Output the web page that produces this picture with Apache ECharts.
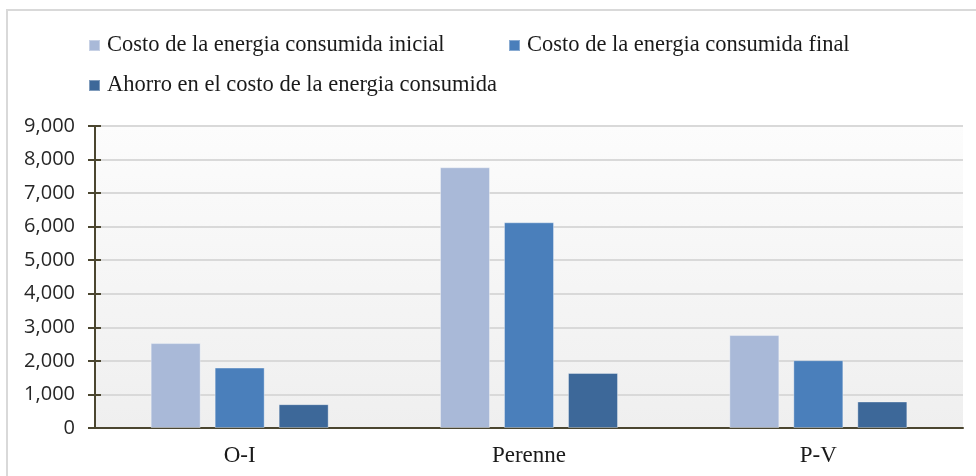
<!DOCTYPE html>
<html>
<head>
<meta charset="utf-8">
<script src="https://cdn.jsdelivr.net/npm/echarts@6/dist/echarts.min.js"></script>
<style>
  html, body { margin: 0; padding: 0; background: #ffffff; }
  #chart { width: 976px; height: 476px; }
</style>
</head>
<body>
<div id="chart"></div>
<script>
// Energy cost per scenario
const categories = ['O-I', 'Perenne', 'P-V'];
const seriesNames = [
  'Costo de la energia consumida inicial',
  'Costo de la energia consumida final',
  'Ahorro en el costo de la energia consumida'
];
const costoInicial = [2530, 7770, 2770];
const costoFinal = [1800, 6130, 2020];
const ahorro = [710, 1640, 790];
const yTicks = { min: 0, max: 9000, interval: 1000 };

const colors = ['#a9b9d8', '#4a7fbb', '#3d6899'];
const serif = '"Liberation Serif", "DejaVu Serif", serif';
const sans = '"Open Sans", "Noto Sans", sans-serif';
const axisColor = '#4b4630';

const chart = echarts.init(document.getElementById('chart'), null, { renderer: 'canvas' });

function legendAt(name, left, top) {
  return {
    data: [name],
    left: left,
    top: top,
    orient: 'horizontal',
    icon: 'rect',
    itemWidth: 11,
    itemHeight: 11,
    itemGap: 0,
    padding: 0,
    selectedMode: false,
    textStyle: { fontFamily: serif, fontSize: 22.5, color: '#1a1a1a', padding: [0, 0, 0, 2] }
  };
}

const valueArrays = [costoInicial, costoFinal, ahorro];

chart.setOption({
  animation: false,
  backgroundColor: '#ffffff',
  graphic: [{
    type: 'rect',
    shape: { x: 7, y: 10, width: 1000, height: 500 },
    style: { fill: 'none', stroke: '#d9d9d9', lineWidth: 2 },
    silent: true,
    z: -10
  }],
  legend: [
    legendAt(seriesNames[0], 88, 34),
    legendAt(seriesNames[1], 508, 34),
    legendAt(seriesNames[2], 88, 74)
  ],
  grid: {
    left: 95, right: 13, top: 126, bottom: 48,
    show: true,
    borderWidth: 0,
    backgroundColor: new echarts.graphic.LinearGradient(0, 0, 0, 1, [
      { offset: 0, color: '#fcfcfc' },
      { offset: 1, color: '#efefef' }
    ])
  },
  xAxis: {
    type: 'category',
    data: categories,
    axisLine: { show: true, lineStyle: { color: axisColor, width: 2 } },
    axisTick: { show: false },
    axisLabel: { fontFamily: serif, fontSize: 23, color: '#1a1a1a', margin: 16 },
    splitLine: { show: false }
  },
  yAxis: [{
    type: 'value',
    min: yTicks.min, max: yTicks.max, interval: yTicks.interval,
    axisLine: { show: true, lineStyle: { color: axisColor, width: 2 } },
    axisTick: { show: true, length: 7, lineStyle: { color: axisColor, width: 2 } },
    axisLabel: {
      fontFamily: sans, fontSize: 20, color: '#262626', margin: 20,
      formatter: v => v.toLocaleString('en-US')
    },
    splitLine: { show: true, lineStyle: { color: '#d9d9d9', width: 2 } }
  }, {
    // inner half of the crossing tick marks
    type: 'value',
    position: 'left',
    min: yTicks.min, max: yTicks.max, interval: yTicks.interval,
    axisLine: { show: false },
    axisTick: { show: true, inside: true, length: 6, lineStyle: { color: axisColor, width: 2 } },
    axisLabel: { show: false },
    splitLine: { show: false }
  }],
  series: seriesNames.map((name, i) => ({
    name: name,
    type: 'bar',
    data: valueArrays[i],
    barWidth: 50,
    barGap: '28%',
    itemStyle: { color: colors[i], borderColor: 'rgba(255,255,255,0.35)', borderWidth: 1 }
  }))
});
</script>
</body>
</html>
